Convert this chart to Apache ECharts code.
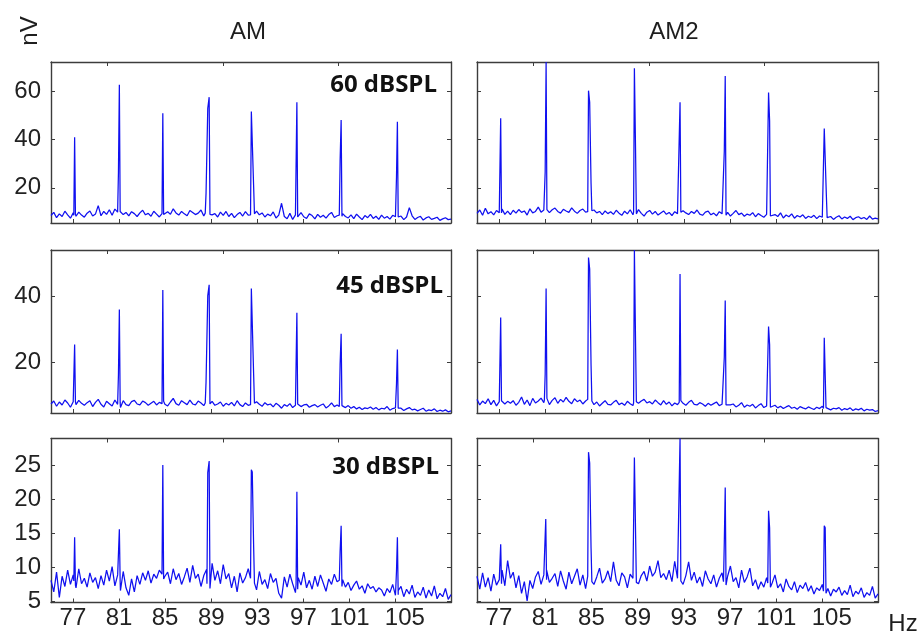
<!DOCTYPE html>
<html><head><meta charset="utf-8">
<script src="https://cdn.jsdelivr.net/npm/echarts@6/dist/echarts.min.js"></script>
<style>html,body{margin:0;padding:0;background:#fff}#c{width:919px;height:637px}</style>
</head><body><div id="c"></div>
<script>
// ---------- data ----------
const xMin = 75.1, xMax = 109.8;

const noiseAM60 = [8.5,9.8,7.6,9.2,8.1,10.3,8.8,7.4,9.6,8.2,9.9,8.7,
7.8,9.5,10.4,8.3,9.1,12.6,8.4,10.2,9.0,10.9,8.6,11.2,
9.7,10.5,8.9,9.8,8.4,10.1,9.3,8.1,9.6,10.7,8.8,9.4,
8.2,10.3,9.1,7.9,9.5,8.6,10.1,9.0,11.3,9.6,8.7,10.2,
9.2,8.4,10.6,9.8,8.9,9.5,10.8,8.3,9.7,10.4,8.8,9.3,
7.9,9.9,8.6,10.2,8.1,9.4,7.6,8.9,9.8,8.3,10.1,8.7,
9.5,8.2,10.3,8.8,9.6,7.9,9.1,8.4,10.0,7.5,8.7,13.6,
8.1,7.2,9.4,6.9,8.8,7.6,9.7,8.0,7.3,9.2,8.5,7.1,
9.0,7.8,8.6,7.4,8.9,9.8,7.7,8.4,7.0,9.3,8.1,7.5,
8.8,7.2,9.1,7.9,6.8,8.5,7.6,9.0,7.3,8.2,6.9,8.7,
7.4,8.1,7.0,8.6,8.0,7.5,8.3,6.8,7.9,11.8,8.4,6.9,
7.7,8.2,6.6,7.5,8.0,6.9,7.3,7.8,6.5,7.1,7.6,6.8,7.0];

const noiseAM2_60 = [9.4,10.8,8.6,11.5,9.2,10.1,8.8,10.6,9.7,11.2,9.0,10.3,
8.9,10.7,9.5,11.0,9.8,10.4,8.7,11.3,9.6,10.2,12.0,9.9,
10.8,11.4,9.7,10.9,11.6,10.2,9.5,11.1,10.4,9.8,11.7,10.3,
9.4,10.6,11.2,9.9,10.5,9.1,10.8,9.6,10.2,8.9,10.4,9.3,
10.1,9.0,10.7,9.5,8.6,10.3,9.2,10.9,8.8,9.7,11.0,9.4,
8.3,9.9,10.6,9.1,10.2,8.7,9.6,10.4,9.0,9.8,8.5,10.1,
9.3,8.8,10.5,9.6,8.9,10.2,9.4,10.8,9.1,8.6,9.9,10.3,
8.8,9.5,8.4,10.1,9.2,8.7,9.8,8.3,9.4,10.6,8.9,9.5,
8.2,9.1,8.6,9.7,8.0,9.3,8.5,7.8,9.0,8.4,7.6,8.9,
8.1,9.6,7.5,8.7,8.0,9.2,7.4,8.5,7.9,8.8,7.3,8.2,
7.7,8.6,7.2,8.3,7.8,9.0,7.4,8.1,6.9,7.8,8.4,7.1,
7.9,7.3,8.2,6.8,7.6,8.0,7.2,7.7,6.9,8.3,7.0,7.4,7.1];

const noiseAM45 = [7.2,8.1,6.5,7.8,6.9,8.4,7.5,6.2,7.9,7.0,8.3,7.4,
6.8,7.6,8.2,6.4,7.7,8.6,7.1,6.3,8.0,7.3,6.6,8.4,
7.5,6.1,8.2,7.0,6.7,7.9,8.3,7.2,6.9,8.1,7.6,6.8,
7.4,8.0,6.9,7.7,8.5,7.1,6.6,7.8,8.9,7.3,6.8,8.2,
7.6,7.0,8.4,7.2,6.9,8.1,7.5,6.7,7.9,7.3,8.0,6.8,
7.2,7.8,6.5,7.4,6.9,7.7,6.6,8.2,7.0,6.4,7.5,6.8,
7.3,6.6,7.9,7.1,6.5,7.6,6.9,7.2,6.3,7.4,6.8,5.9,
7.0,6.5,7.3,6.1,6.8,7.4,6.4,6.9,7.1,6.2,6.7,7.0,
6.3,6.8,7.2,6.0,6.6,7.5,6.4,6.9,5.8,6.5,6.1,6.7,
5.9,6.4,5.7,6.2,5.5,6.0,5.8,6.3,5.6,6.1,5.4,5.9,
5.7,6.4,5.3,5.8,6.0,5.5,5.9,5.2,5.7,6.1,5.4,5.6,
5.1,5.5,5.9,5.0,5.4,5.2,5.7,4.9,5.3,5.0,5.4,4.8,5.1];

const noiseAM2_45 = [8.6,6.9,8.1,7.3,8.8,7.0,8.3,6.6,7.9,8.5,7.2,8.0,
7.4,8.2,6.8,7.7,9.3,7.1,8.4,6.7,8.9,7.5,8.1,9.0,
7.6,8.7,7.0,8.3,9.1,7.4,8.6,7.8,9.2,8.0,7.3,8.8,
7.9,8.4,7.2,8.1,7.6,8.5,7.0,7.8,6.6,7.4,8.2,7.1,
6.9,7.7,8.3,7.0,7.5,6.8,8.0,7.3,6.7,7.9,7.4,8.1,
8.6,7.5,7.9,7.2,8.4,7.6,6.9,8.2,7.1,7.8,6.6,7.5,
7.0,7.9,7.4,6.8,7.7,8.3,7.1,6.9,7.6,7.2,6.5,7.4,
6.8,7.3,7.8,6.7,7.1,6.4,7.5,6.9,7.2,6.3,6.8,7.6,
6.2,6.9,6.5,7.1,6.0,6.7,7.3,6.1,6.6,5.9,6.4,6.8,
6.0,6.5,5.8,6.3,6.7,5.9,6.2,5.6,6.4,6.0,5.7,6.3,
5.9,5.5,6.2,5.8,6.5,5.6,6.0,5.4,5.9,5.7,6.1,5.3,
5.8,5.5,6.0,5.2,5.7,5.4,5.9,5.1,5.6,5.3,5.5,4.9,5.2];

const noiseAM30 = [8.1,6.4,9.3,5.6,8.7,7.2,9.6,7.5,8.9,7.0,9.8,7.6,
8.4,7.1,9.2,7.8,8.5,6.9,8.8,7.4,9.6,8.0,10.1,7.3,
8.9,6.6,9.4,7.0,5.9,8.3,6.4,8.8,7.5,9.2,8.1,9.5,
7.7,9.0,8.4,9.6,7.9,8.7,9.3,7.6,9.8,8.2,9.1,7.5,
8.6,9.9,7.8,10.3,8.4,9.0,7.2,8.8,9.7,7.4,10.6,8.1,
9.5,7.6,10.4,8.3,9.1,7.0,8.7,6.4,9.2,7.7,8.5,9.8,
7.3,8.9,6.7,9.4,7.5,8.2,6.9,9.1,7.8,8.4,6.2,5.5,
8.6,7.1,9.0,7.6,6.3,8.5,7.4,9.3,7.0,8.1,6.8,8.7,
7.2,8.9,7.7,6.5,8.3,7.5,9.0,7.9,6.9,8.2,7.1,7.8,
6.6,7.4,8.0,6.8,7.3,6.2,7.6,6.9,7.2,6.4,7.0,6.7,
5.8,6.9,6.3,7.5,5.9,6.6,7.2,5.7,6.8,6.1,7.4,5.6,
6.4,5.9,7.1,5.5,6.7,5.8,7.3,5.4,6.2,5.7,6.9,5.3,6.0];

const noiseAM2_30 = [8.7,6.8,9.2,7.1,8.5,6.5,9.0,7.4,8.2,9.6,7.3,11.0,
8.4,9.3,7.0,8.8,6.2,7.9,5.1,8.1,6.9,8.6,9.4,7.5,
8.9,9.6,7.8,8.4,9.1,7.2,9.5,8.0,6.8,9.3,7.6,8.7,
9.8,7.4,8.9,6.9,8.2,9.4,7.5,8.6,9.9,7.7,8.3,9.5,
7.9,10.8,8.1,7.3,9.2,8.6,7.0,9.0,8.4,9.7,7.6,8.8,
9.4,8.0,10.2,8.7,9.3,11.0,8.5,9.1,8.2,9.6,7.9,10.9,
8.4,9.0,7.5,8.8,10.8,8.1,9.3,7.7,8.6,7.2,9.5,8.3,
7.6,8.9,7.1,8.4,9.2,7.4,8.7,10.2,7.9,8.5,7.0,9.6,
7.8,8.6,9.9,7.3,8.2,6.8,7.9,7.1,8.5,6.6,7.7,8.9,
7.0,7.6,6.4,8.3,7.2,6.7,7.9,6.3,7.4,6.9,7.8,6.5,
7.3,6.1,7.0,6.6,7.5,6.2,6.9,5.8,6.8,6.4,7.1,5.9,
6.6,6.0,7.4,5.7,6.5,6.1,7.0,5.6,6.3,5.9,7.2,5.5,6.1];

// spike groups: fine-resolution bins [Hz, nV] around each modulation peak
const spikesAM60 = [
 [[77.08,8.6],[77.15,41.0],[77.22,9.1]],
 [[80.88,9.9],[80.95,26.3],[81.03,62.8],[81.1,10.2]],
 [[84.73,9.3],[84.8,51.0],[84.87,8.9]],
 [[88.48,9.5],[88.55,17.7],[88.7,53.1],[88.82,57.7],[88.89,9.0]],
 [[92.41,8.8],[92.48,51.7],[92.56,51.3],[92.68,20.4],[92.75,9.2]],
 [[96.36,8.4],[96.43,55.6],[96.5,7.9]],
 [[100.11,8.7],[100.18,31.1],[100.27,48.2],[100.34,8.2]],
 [[105.0,7.6],[105.07,24.2],[105.15,47.5],[105.22,7.9]]];
const spikesAM2_60 = [
 [[77.08,10.2],[77.15,48.9],[77.22,9.6]],
 [[80.93,10.8],[81.0,26.7],[81.08,72.3],[81.15,11.0]],
 [[84.68,10.1],[84.75,60.4],[84.85,55.6],[84.97,21.8],[85.04,10.5]],
 [[88.65,9.8],[88.72,69.7],[88.82,35.7],[88.89,9.2]],
 [[92.6,9.5],[92.67,55.6],[92.74,9.9]],
 [[96.43,9.0],[96.5,35.3],[96.58,66.5],[96.65,8.6]],
 [[100.26,8.8],[100.33,59.6],[100.42,47.9],[100.49,8.3]],
 [[105.08,7.9],[105.15,44.7],[105.23,44.0],[105.33,17.0],[105.4,7.6]]];
const spikesAM45 = [
 [[77.08,7.4],[77.15,25.3],[77.22,7.9]],
 [[80.88,7.1],[80.95,16.0],[81.03,36.0],[81.1,7.6]],
 [[84.73,7.3],[84.8,41.9],[84.87,8.0]],
 [[88.48,7.5],[88.55,13.9],[88.7,40.2],[88.82,43.5],[88.89,7.2]],
 [[92.41,7.0],[92.48,42.4],[92.56,42.0],[92.68,16.0],[92.75,7.4]],
 [[96.36,6.9],[96.43,35.0],[96.5,7.2]],
 [[100.11,6.4],[100.18,19.2],[100.27,28.6],[100.34,6.7]],
 [[105.0,5.6],[105.07,13.2],[105.15,23.8],[105.22,5.9]]];
const spikesAM2_45 = [
 [[77.08,7.8],[77.15,33.5],[77.22,8.2]],
 [[80.93,8.4],[81.0,16.3],[81.08,42.4],[81.15,8.9]],
 [[84.68,8.6],[84.75,51.8],[84.85,48.3],[84.97,19.0],[85.04,8.1]],
 [[88.65,7.5],[88.72,54.1],[88.82,26.1],[88.89,7.9]],
 [[92.6,7.7],[92.67,46.8],[92.74,8.2]],
 [[96.43,7.1],[96.5,21.5],[96.58,38.7],[96.65,6.9]],
 [[100.26,6.6],[100.33,30.8],[100.42,25.3],[100.49,6.2]],
 [[105.08,5.8],[105.15,27.4],[105.23,27.0],[105.3,6.1]]];
const spikesAM30 = [
 [[77.08,8.0],[77.15,14.4],[77.22,7.4]],
 [[80.96,8.8],[81.03,15.6],[81.1,7.9]],
 [[84.73,9.0],[84.8,25.0],[84.87,8.3]],
 [[88.63,7.6],[88.7,23.9],[88.82,25.6],[88.89,6.9]],
 [[92.41,8.4],[92.48,24.3],[92.56,24.0],[92.68,13.0],[92.75,7.7]],
 [[96.36,7.5],[96.43,21.1],[96.5,6.8]],
 [[100.11,8.1],[100.18,12.3],[100.27,16.1],[100.34,7.2]],
 [[105.0,6.6],[105.07,9.4],[105.15,14.4],[105.22,6.0]]];
const spikesAM2_30 = [
 [[77.08,8.3],[77.15,13.4],[77.22,7.6]],
 [[80.98,8.9],[81.05,17.1],[81.12,8.2]],
 [[84.68,8.7],[84.75,26.9],[84.85,25.3],[84.97,12.8],[85.04,7.9]],
 [[88.65,8.4],[88.72,26.1],[88.82,15.2],[88.89,7.8]],
 [[92.6,8.6],[92.67,28.9],[92.74,8.0]],
 [[96.43,7.9],[96.5,13.7],[96.58,21.7],[96.65,7.4]],
 [[100.26,7.7],[100.33,18.3],[100.42,15.8],[100.49,7.1]],
 [[105.08,6.5],[105.15,16.1],[105.23,15.8],[105.3,6.2]]];

const xTickBottom = [77,81,85,89,93,97,101,105];
const xTickTop = [80,90,100];
const xLabelPos = [77,81,85,89,93,97,101,105.8];
const xLabelText = ['77','81','85','89','93','97','101','105'];
const yRanges = [[5.4,72.3],[4.45,54.1],[4.85,28.9]];
const yTicks = [[20,40,60],[20,40],[5,10,15,20,25]];
const levelLabels = ['60 dBSPL','45 dBSPL','30 dBSPL'];
const colTitles = ['AM','AM2'];

const panelNoise = [noiseAM60, noiseAM2_60, noiseAM45, noiseAM2_45, noiseAM30, noiseAM2_30];
const panelSpikes = [spikesAM60, spikesAM2_60, spikesAM45, spikesAM2_45, spikesAM30, spikesAM2_30];

// ---------- layout ----------
const colLeft = [51, 477], colWidth = [400, 401];
const rowTop = [62, 250, 438.5], rowHeight = [161, 163, 164];
const axisColor = '#3c3c3c';
const labelFont = '"Liberation Sans", Arial, sans-serif';

function build(noise, groups) {
  const n = noise.length;
  const pts = noise.map((v, i) => [xMin + i * (xMax - xMin) / (n - 1), v])
    .filter(p => !groups.some(g => p[0] >= g[0][0] && p[0] <= g[g.length - 1][0]));
  return pts.concat(groups.flat()).sort((a, b) => a[0] - b[0]);
}

const grid = [], xAxis = [], yAxis = [], series = [];
for (let p = 0; p < 6; p++) {
  const r = Math.floor(p / 2), c = p % 2;
  grid.push({left: colLeft[c], top: rowTop[r], width: colWidth[c], height: rowHeight[r]});
  const line = {show: true, onZero: false, lineStyle: {color: axisColor, width: 1.4}};
  xAxis.push({gridIndex: p, type: 'value', position: 'bottom', min: xMin, max: xMax,
    axisLine: line, splitLine: {show: false},
    axisTick: {show: true, inside: true, length: 4, customValues: xTickBottom, lineStyle: {color: axisColor}},
    axisLabel: {show: r === 2, customValues: xLabelPos, margin: 4, fontSize: 24, fontFamily: labelFont, color: '#222',
      formatter: v => { const k = xLabelPos.findIndex(q => Math.abs(q - v) < 1e-6); return k >= 0 ? xLabelText[k] : ''; }}
  });
  xAxis.push({gridIndex: p, type: 'value', position: 'top', min: xMin, max: xMax,
    axisLine: line, splitLine: {show: false},
    axisTick: {show: true, inside: true, length: 4, customValues: xTickTop, lineStyle: {color: axisColor}},
    axisLabel: {show: false}
  });
  yAxis.push({gridIndex: p, type: 'value', position: 'left', min: yRanges[r][0], max: yRanges[r][1],
    axisLine: line, splitLine: {show: false},
    axisTick: {show: true, inside: true, length: 4, customValues: yTicks[r], lineStyle: {color: axisColor}},
    axisLabel: {show: c === 0, customValues: yTicks[r], margin: 10, fontSize: 24, fontFamily: labelFont, color: '#222'}
  });
  yAxis.push({gridIndex: p, type: 'value', position: 'right', min: yRanges[r][0], max: yRanges[r][1],
    axisLine: line, splitLine: {show: false},
    axisTick: {show: true, inside: true, length: 4, customValues: yTicks[r], lineStyle: {color: axisColor}},
    axisLabel: {show: false}
  });
  series.push({type: 'line', xAxisIndex: 2 * p, yAxisIndex: 2 * p, data: build(panelNoise[p], panelSpikes[p]),
    showSymbol: false, symbol: 'none', silent: true, clip: true, sampling: null,
    lineStyle: {color: '#1010f0', width: 1.25}});
}

const textStyle = (t, font, extra) => Object.assign({text: t, font: font, fill: '#1e1e1e',
  textAlign: 'center', textVerticalAlign: 'middle', align: 'center', verticalAlign: 'middle'}, extra || {});

const graphic = [
  {type: 'text', x: 248, y: 32, style: textStyle(colTitles[0], '24px ' + labelFont)},
  {type: 'text', x: 674, y: 32, style: textStyle(colTitles[1], '24px ' + labelFont)},
  {type: 'text', x: 30, y: 31, rotation: Math.PI / 2, style: textStyle('nV', '24px ' + labelFont)},
  {type: 'text', x: 903, y: 624, style: textStyle('Hz', '24px ' + labelFont)},
  {type: 'text', x: 437, y: 85, style: textStyle(levelLabels[0], 'bold 24px "Open Sans", sans-serif', {textAlign: 'right', align: 'right', fill: '#111'})},
  {type: 'text', x: 443, y: 286, style: textStyle(levelLabels[1], 'bold 24px "Open Sans", sans-serif', {textAlign: 'right', align: 'right', fill: '#111'})},
  {type: 'text', x: 439, y: 467, style: textStyle(levelLabels[2], 'bold 24px "Open Sans", sans-serif', {textAlign: 'right', align: 'right', fill: '#111'})}
];

const chart = echarts.init(document.getElementById('c'), null, {renderer: 'canvas'});
chart.setOption({animation: false, backgroundColor: '#fff', grid, xAxis, yAxis, series, graphic});
</script>
</body></html>
